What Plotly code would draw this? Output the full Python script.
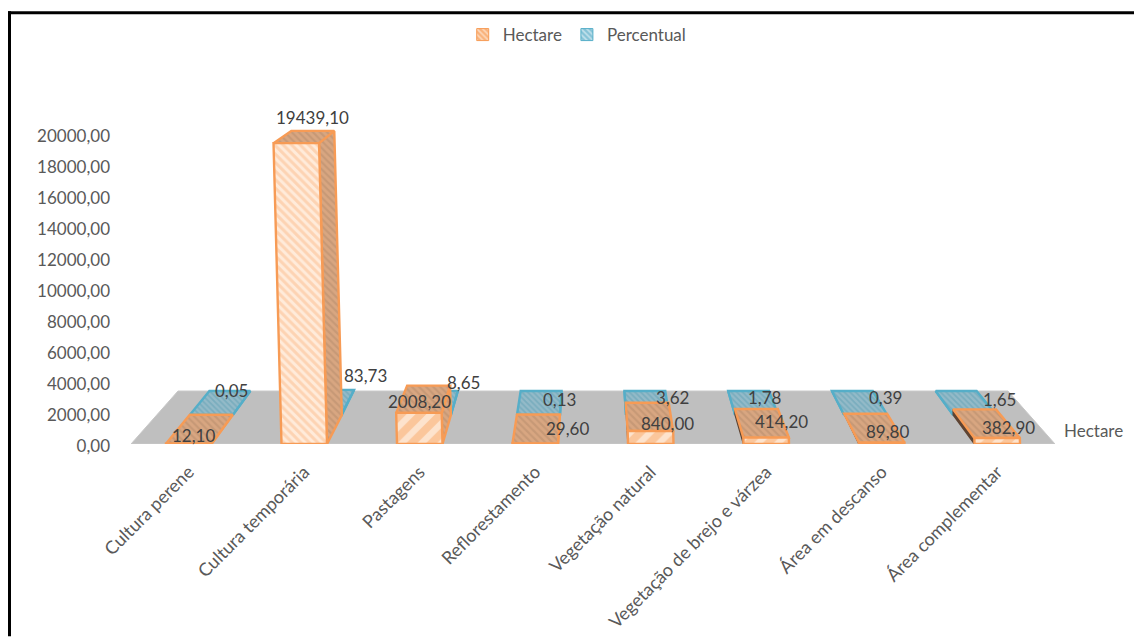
import plotly.graph_objects as go

# Land use by class, in hectares and as a share of the total
categories = ["Cultura perene", "Cultura temporária", "Pastagens", "Reflorestamento",
              "Vegetação natural", "Vegetação de brejo e várzea", "Área em descanso",
              "Área complementar"]
hectare = [12.10, 19439.10, 2008.20, 29.60, 840.00, 414.20, 89.80, 382.90]
percentual = [0.05, 83.73, 8.65, 0.13, 3.62, 1.78, 0.39, 1.65]

# Plot box in pixels; the axes carry all the drawing in category / value units
W, H = 1134, 637
LEFT, RIGHT, BASE, TOP = 131, 1055, 444.5, 120
PX_PER_VALUE = 310 / 20000
Y_MAX = (BASE - TOP) / PX_PER_VALUE

# Perspective: points recede toward a vanishing point as depth grows
VP_X = 3.5
VP_Y = 33650
ROW_DEPTH = 0.0557       # hectare row spans 0..ROW_DEPTH
FLOOR_DEPTH = 0.1017     # percentual row spans ROW_DEPTH..FLOOR_DEPTH
HALF_WIDTH = 0.197
LEAN_PER_VALUE = -0.0691 / 19439.1


def project(x, value, depth):
    sx = x + LEAN_PER_VALUE * value
    return sx + (VP_X - sx) * depth, value + (VP_Y - value) * depth


def face(points, line, fill, pattern, width=2.4):
    xs, ys = zip(*[project(*p) for p in points + points[:1]])
    return go.Scatter(
        x=xs, y=ys, mode="lines", fill="toself", fillcolor=fill,
        fillpattern=pattern, line=dict(color=line, width=width),
        hoverinfo="skip", showlegend=False, cliponaxis=False,
    )


ORANGE = "#F79B55"
BLUE = "#55AEC8"
FLOOR = "#BFBFBF"
CLEAR = "rgba(0,0,0,0)"

shade_orange = dict(shape="\\", fgcolor="#B58B6C", bgcolor="#D8A681", size=5, solidity=0.45)
shade_blue = dict(shape="\\", fgcolor="#5F9FB3", bgcolor="#93BAC8", size=4, solidity=0.45)
front_wide = dict(shape="/", fgcolor="#FFFFFF", bgcolor="#FBC69B", size=14, solidity=0.45)
front_fine = dict(shape="\\", fgcolor="#FBBC8C", bgcolor="#FFEBDA", size=6, solidity=0.5)
front_blue = dict(shape="/", fgcolor="#FFFFFF", bgcolor="#A5D5E3", size=10, solidity=0.45)


def bar_faces(i, value, d0, d1, line, shade, front, dark_side=None):
    l, r = i - HALF_WIDTH, i + HALF_WIDTH
    near_edge = r if r < VP_X else l
    side = [(near_edge, 0, d0), (near_edge, 0, d1), (near_edge, value, d1), (near_edge, value, d0)]
    top = [(l, value, d0), (r, value, d0), (r, value, d1), (l, value, d1)]
    fr = [(l, 0, d0), (r, 0, d0), (r, value, d0), (l, value, d0)]
    if dark_side and near_edge == l:
        side_face = face(side, dark_side, dark_side, None, width=1.5)
    else:
        side_face = face(side, line, CLEAR, shade)
    return [side_face, face(top, line, CLEAR, shade), face(fr, line, CLEAR, front)]


fig = go.Figure()

floor_pts = [(-0.5, 0, 0), (7.5, 0, 0), (7.5, 0, FLOOR_DEPTH), (-0.5, 0, FLOOR_DEPTH)]
fig.add_trace(go.Scatter(
    x=[project(*p)[0] for p in floor_pts + floor_pts[:1]],
    y=[project(*p)[1] for p in floor_pts + floor_pts[:1]],
    mode="lines", fill="toself", fillcolor=FLOOR, line=dict(color="#C8C8C8", width=1),
    hoverinfo="skip", showlegend=False, cliponaxis=False,
))

# Back row first so the hectare bars overlap it
for i, v in enumerate(percentual):
    for t in bar_faces(i, v, ROW_DEPTH, FLOOR_DEPTH, BLUE, shade_blue, front_blue):
        fig.add_trace(t)
for i, v in enumerate(hectare):
    front = front_fine if v > 10000 else front_wide
    for t in bar_faces(i, v, 0, ROW_DEPTH, ORANGE, shade_orange, front, dark_side="#5E4433"):
        fig.add_trace(t)

# Legend entries
fig.add_trace(go.Bar(x=[None], y=[None], name="Hectare",
                     marker=dict(color="#FBC69B", line=dict(color=ORANGE, width=1),
                                 pattern=dict(shape="\\", fgcolor="#FFFFFF", bgcolor="#F9B27A",
                                              size=5, solidity=0.4))))
fig.add_trace(go.Bar(x=[None], y=[None], name="Percentual",
                     marker=dict(color="#A5D5E3", line=dict(color=BLUE, width=1),
                                 pattern=dict(shape="\\", fgcolor="#FFFFFF", bgcolor="#86C3D7",
                                              size=5, solidity=0.4))))

# Label offsets in pixels from the centre of each bar's top-front edge
hectare_offsets = [(5, -8), (16, -26), (1, -11), (32, -15), (17, -8), (15, -16), (6, -11), (11, -11)]
percentual_offsets = [(20, -24), (45, -38), (34, -32), (21, -15), (25, -17), (8, -17), (20, -17), (25, -15)]


def add_value_labels(values, depth, offsets):
    for i, (v, (dx, dy)) in enumerate(zip(values, offsets)):
        x, y = project(i, v, depth)
        fig.add_annotation(x=x, y=y, text=f"{v:.2f}".replace(".", ","), showarrow=False,
                           xshift=dx, yshift=-dy, font=dict(color="#404040", size=17))


add_value_labels(percentual, ROW_DEPTH, percentual_offsets)
add_value_labels(hectare, 0, hectare_offsets)

# Depth axis title sits beside the floor
fig.add_annotation(x=7.5, y=0, text="Hectare", showarrow=False, xanchor="left", xshift=7,
                   yshift=14, font=dict(color="#595959", size=17))


def paper_x(px):
    return (px - LEFT) / (RIGHT - LEFT)


def paper_y(px):
    return (BASE - px) / (BASE - TOP)


frame = dict(type="line", xref="paper", yref="paper", line=dict(color="#000000", width=3))
fig.update_layout(
    width=W, height=H, autosize=False,
    margin=dict(l=LEFT, r=W - RIGHT, t=TOP, b=H - BASE),
    paper_bgcolor="#FFFFFF", plot_bgcolor="rgba(0,0,0,0)",
    font=dict(family="Lato, Carlito, Calibri, sans-serif", size=17, color="#595959"),
    separators=",.",
    xaxis=dict(range=[-0.5, 7.5], tickmode="array", tickvals=list(range(8)), ticktext=categories,
               tickangle=-45, showgrid=False, zeroline=False, showline=False, ticks="",
               ticklabelstandoff=13, tickfont=dict(size=18), automargin=False),
    yaxis=dict(range=[0, Y_MAX], tickmode="array", tickvals=list(range(0, 20001, 2000)),
               tickformat=".2f", showgrid=False, zeroline=False, showline=False, ticks="",
               ticklabelstandoff=20, ticklabelshift=2, automargin=False),
    legend=dict(orientation="h", xref="container", yref="container", x=0.509, xanchor="center",
                y=0.945, yanchor="middle", font=dict(size=17)),
    shapes=[
        dict(frame, x0=paper_x(8), x1=paper_x(W), y0=paper_y(12.5), y1=paper_y(12.5)),
        dict(frame, x0=paper_x(9.5), x1=paper_x(9.5), y0=paper_y(11), y1=paper_y(H)),
    ],
)

fig.write_html("out.html")
